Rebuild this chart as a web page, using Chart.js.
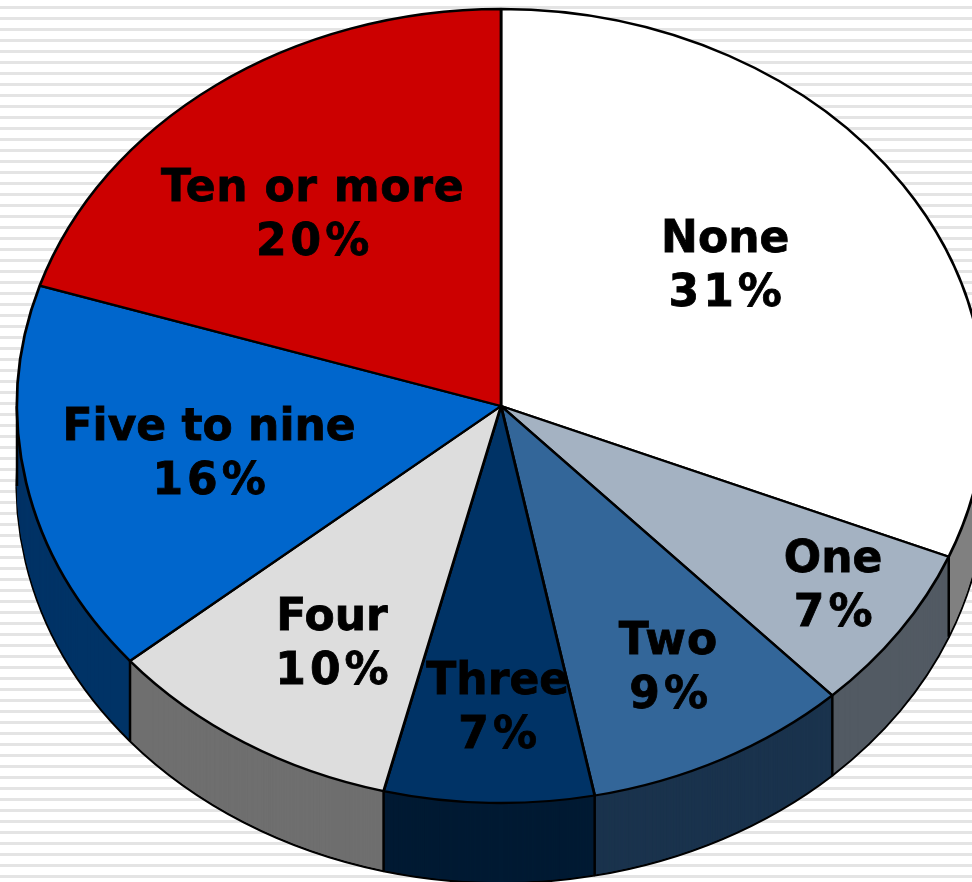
<!DOCTYPE html>
<html>
<head>
<meta charset="utf-8">
<title>Pie</title>
<script src="https://cdn.jsdelivr.net/npm/chart.js@4"></script>
<style>
  html, body { margin: 0; padding: 0; width: 972px; height: 882px; overflow: hidden; background: #fff; }
  .stripes {
    width: 972px; height: 882px;
    background-image: repeating-linear-gradient(to bottom,
      #fff 0, #fff 6px, #e4e4e4 6px, #e4e4e4 9px, #fff 9px, #fff 11px);
  }
  canvas { display: block; }
</style>
</head>
<body>
<div class="stripes"><canvas id="Chart-pie" width="972" height="882"></canvas></div>
<script>
var categories = ['None', 'One', 'Two', 'Three', 'Four', 'Five to nine', 'Ten or more'];
var values = [31.2, 6.8, 8.9, 7.0, 10.0, 16.0, 20.1];
var topColors = ['#ffffff', '#a4b2c2', '#336699', '#003366', '#dddddd', '#0066cc', '#cc0000'];
var wallColors = ['#808080', '#525a63', '#1a334d', '#001a33', '#6f6f6f', '#003366', '#660000'];
// label shift from the 60% radius point of each slice
var labelNudge = [[-18, -6], [92, 46], [34, 52], [3, 65], [-16, 38], [-8, 3], [-18, 3]];
// extra letter spacing of the name line, the font is a bit narrower than the original
var nameSpacing = [0, 0, 1.3, 0, 0, 0, 0.7];

// the flat pie gets squashed into this ellipse
var pieX = 501, pieY = 406, pieRx = 484, pieRy = 397, pieDepth = 80;

function squash(chart, ctx, down) {
  var first = chart.getDatasetMeta(0).data[0];
  var r = first.outerRadius;
  ctx.translate(pieX, pieY + down);
  ctx.scale(pieRx / r, pieRy / r);
  ctx.translate(-first.x, -first.y);
}

function drawLayer(chart, ctx, down, colors, lineColor, lineWidth) {
  var arcs = chart.getDatasetMeta(0).data;
  ctx.save();
  squash(chart, ctx, down);
  arcs.forEach(function(arc, i) {
    var keep = arc.options;
    arc.options = Object.assign({}, keep, {
      backgroundColor: colors[i],
      borderColor: lineColor,
      borderWidth: lineWidth
    });
    arc.draw(ctx);
    arc.options = keep;
  });
  ctx.restore();
}

var pie3d = {
  id: 'pie3d',
  beforeDatasetsDraw: function(chart) {
    var ctx = chart.ctx;
    var arcs = chart.getDatasetMeta(0).data;
    // side wall: same slices stacked from the bottom up
    drawLayer(chart, ctx, pieDepth, wallColors, '#000', 2.5);
    for (var d = pieDepth - 1; d > 0; d--) {
      drawLayer(chart, ctx, d, wallColors, 'rgba(0,0,0,0)', 0);
    }
    // seams where slices meet on the front of the wall
    ctx.save();
    ctx.strokeStyle = '#000';
    ctx.lineWidth = 2.5;
    var edges = arcs.map(function(a) { return a.startAngle; }).concat([Math.PI]);
    edges.forEach(function(angle) {
      if (Math.sin(angle) < -0.001) return;
      var x = pieX + pieRx * Math.cos(angle);
      var y = pieY + pieRy * Math.sin(angle);
      ctx.beginPath();
      ctx.moveTo(x, y);
      ctx.lineTo(x, y + pieDepth);
      ctx.stroke();
    });
    ctx.restore();
    // top face goes through the normal dataset draw
    ctx.save();
    squash(chart, ctx, 0);
  },
  afterDatasetsDraw: function(chart) {
    var ctx = chart.ctx;
    ctx.restore();
    var arcs = chart.getDatasetMeta(0).data;
    ctx.save();
    ctx.fillStyle = '#000';
    ctx.strokeStyle = '#000';
    ctx.lineWidth = 0.8;
    ctx.font = 'bold 44px "DejaVu Sans"';
    ctx.textAlign = 'center';
    ctx.textBaseline = 'middle';
    arcs.forEach(function(arc, i) {
      var mid = (arc.startAngle + arc.endAngle) / 2;
      var x = pieX + 0.6 * pieRx * Math.cos(mid) + labelNudge[i][0];
      var y = pieY + 0.6 * pieRy * Math.sin(mid) + labelNudge[i][1];
      ctx.letterSpacing = nameSpacing[i] + 'px';
      ctx.fillText(categories[i], x + 1, y - 27);
      ctx.strokeText(categories[i], x + 1, y - 27);
      ctx.letterSpacing = '4px';
      ctx.fillText(Math.round(values[i]) + '%', x + 3, y + 27);
      ctx.strokeText(Math.round(values[i]) + '%', x + 3, y + 27);
    });
    ctx.restore();
  }
};

function chart_pie() {
  var ctx = document.getElementById('Chart-pie').getContext('2d');
  new Chart(ctx, {
    type: 'pie',
    data: {
      labels: categories,
      datasets: [{
        data: values,
        backgroundColor: topColors,
        borderColor: '#000',
        borderWidth: 2.5,
        clip: false
      }]
    },
    options: {
      responsive: false,
      animation: false,
      plugins: {
        legend: { display: false },
        tooltip: { enabled: false }
      }
    },
    plugins: [pie3d]
  });
}
chart_pie();
</script>
</body>
</html>
